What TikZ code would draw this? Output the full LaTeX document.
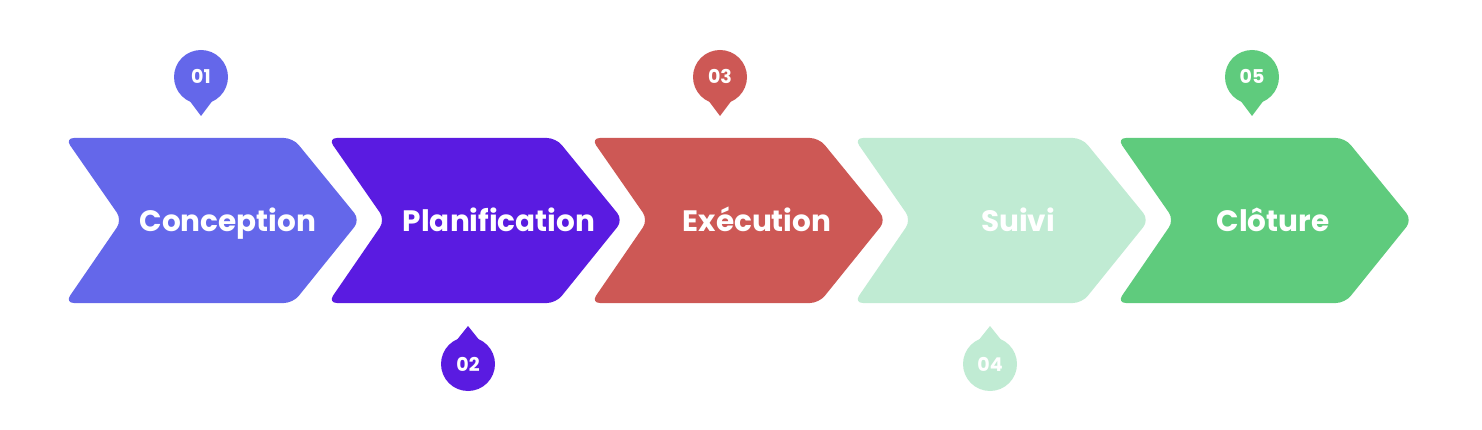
\documentclass[tikz,border=0pt]{standalone}
\usepackage{fontspec}
\setmainfont{Poppins}
\usepackage{tikz}
\definecolor{concol}{HTML}{6467EA}
\definecolor{placol}{HTML}{5A1BE1}
\definecolor{execol}{HTML}{CD5855}
\definecolor{suicol}{HTML}{C0EBD3}
\definecolor{clocol}{HTML}{5FCB7D}

\begin{document}
\begin{tikzpicture}[
x=1pt,y=-1pt,
phase/.style={%
rounded corners=9pt
},
label/.style={%
anchor=base,
text=white,
font=\fontsize{29.5}{34}\selectfont\bfseries
},
num/.style={%
anchor=base,
text=white,
font=\fontsize{19}{22}\selectfont\bfseries
}
]
\useasboundingbox (0,0) rectangle (1482,430);
%% Chevrons
\fill[phase,concol](65,138)--++(228,0)--++(67,82)--++(-67,83)--++(-228,0)--++(57,-83)--cycle;
\node[label]at(228,232)(conc){Conception};
\fill[phase,placol](328,138)--++(228,0)--++(67,82)--++(-67,83)--++(-228,0)--++(57,-83)--cycle;
\node[label]at(499,232)(plan){Planification};
\fill[phase,execol](591,138)--++(228,0)--++(67,82)--++(-67,83)--++(-228,0)--++(57,-83)--cycle;
\node[label]at(757,232)(exec){Exécution};
\fill[phase,suicol](854,138)--++(228,0)--++(67,82)--++(-67,83)--++(-228,0)--++(57,-83)--cycle;
\node[label]at(1018,232)(suiv){Suivi};
\fill[phase,clocol](1117,138)--++(228,0)--++(67,82)--++(-67,83)--++(-228,0)--++(57,-83)--cycle;
\node[label]at(1273,232)(clot){Clôture};
%% Markers above
\fill[concol](201,77)circle(27);
\fill[concol](189,100)--(201,116)--(213,100)--cycle;
\node[num]at(201,84)(n1){01};
\fill[execol](720,77)circle(27);
\fill[execol](708,100)--(720,116)--(732,100)--cycle;
\node[num]at(720,84)(n3){03};
\fill[clocol](1252,77)circle(27);
\fill[clocol](1240,100)--(1252,116)--(1264,100)--cycle;
\node[num]at(1252,84)(n5){05};
%% Markers below
\fill[placol](468,364)circle(27);
\fill[placol](456,341)--(468,326)--(480,341)--cycle;
\node[num]at(468,371)(n2){02};
\fill[suicol](990,364)circle(27);
\fill[suicol](978,341)--(990,326)--(1002,341)--cycle;
\node[num]at(990,371)(n4){04};
\end{tikzpicture}
\end{document}
